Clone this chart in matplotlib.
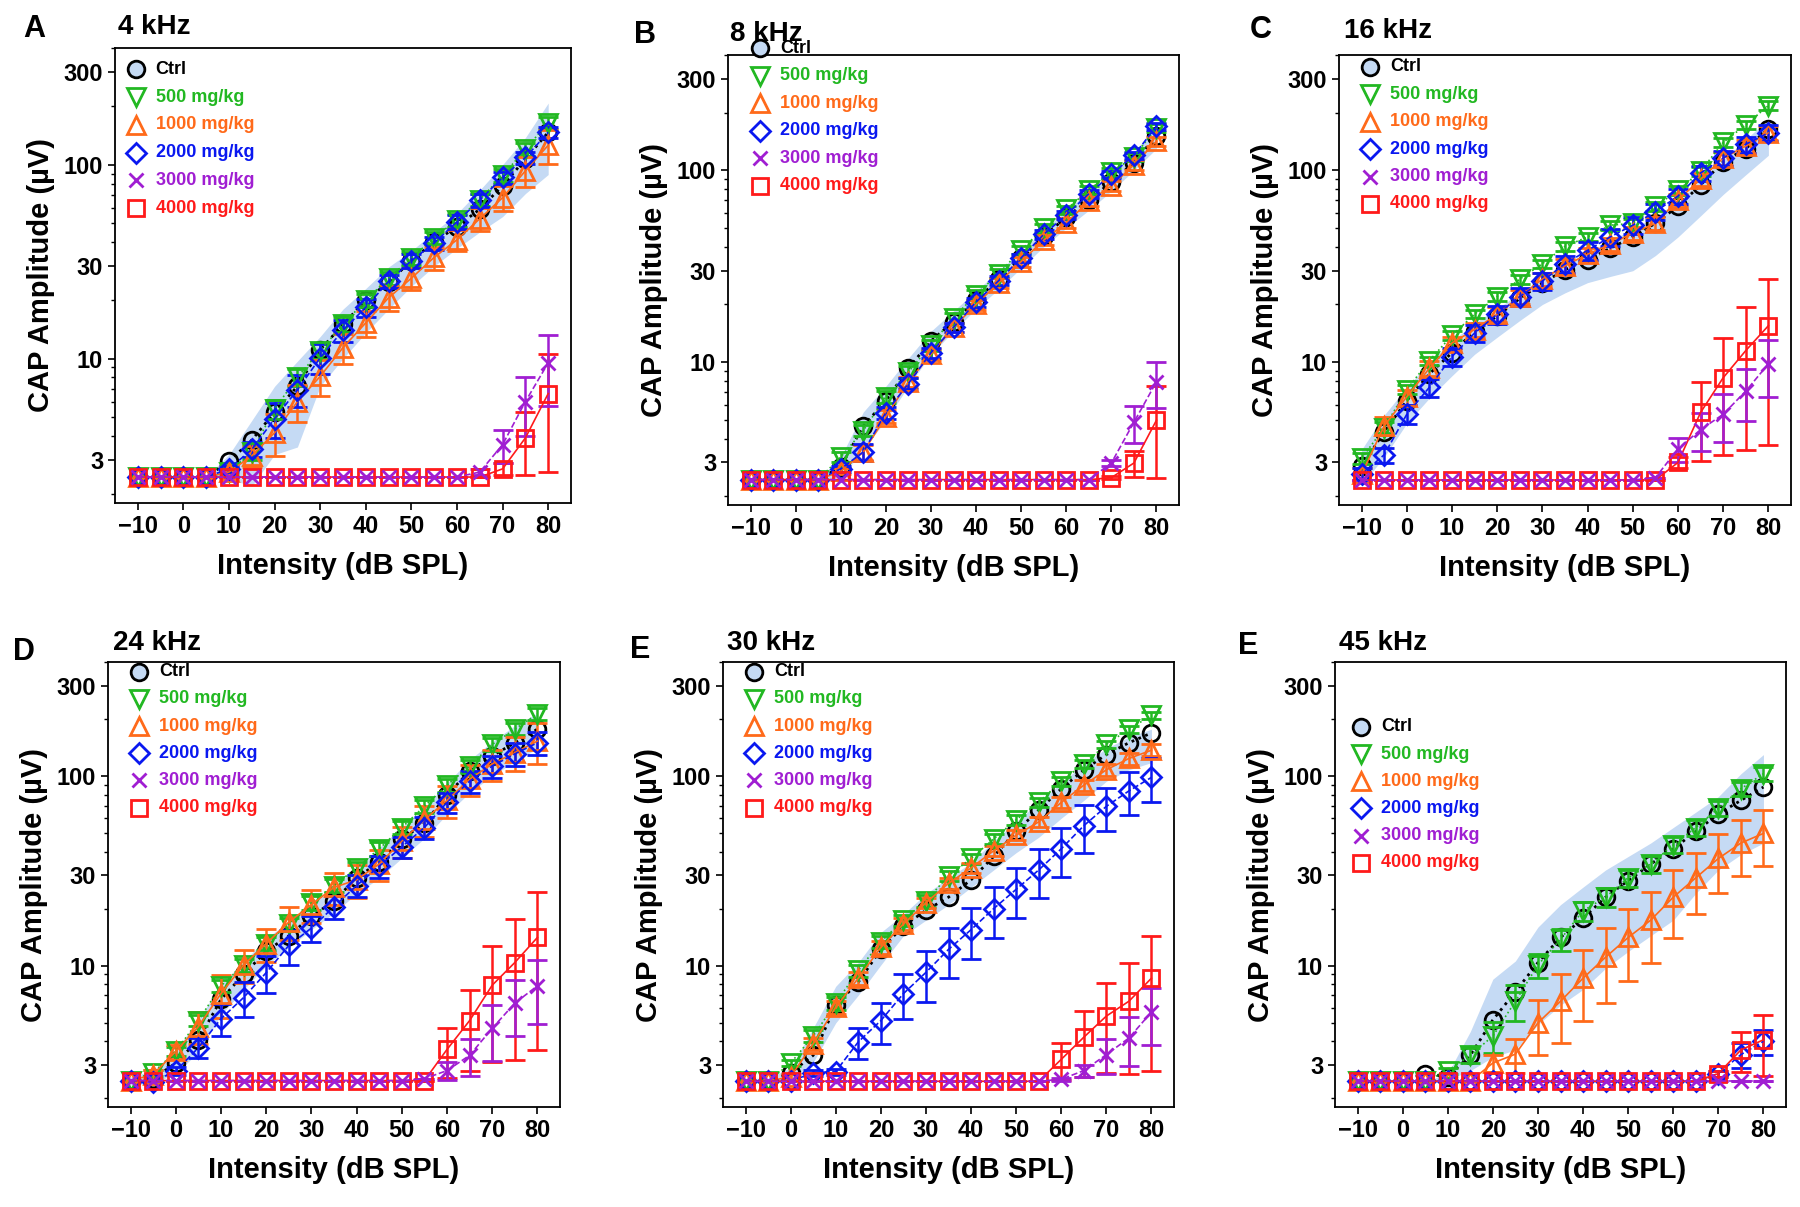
"""CAP amplitude vs. intensity, six frequencies, dose groups."""

import matplotlib
matplotlib.use("Agg")
import matplotlib.pyplot as plt
from matplotlib.ticker import FixedLocator, NullFormatter, LogLocator

plt.rcParams["font.family"] = ["Liberation Sans", "DejaVu Sans"]
plt.rcParams["font.weight"] = "bold"

DB = [-10, -5, 0, 5, 10, 15, 20, 25, 30, 35, 40, 45, 50, 55, 60, 65, 70, 75, 80]
GROUPS = ["Ctrl", "500 mg/kg", "1000 mg/kg", "2000 mg/kg", "3000 mg/kg", "4000 mg/kg"]

# ---- A: 4 kHz
A_CTRL = [2.45, 2.45, 2.45, 2.45, 2.95, 3.8, 5.3, 7.2, 11.1, 15.0, 20.0, 24.8, 32.0, 40.0, 48.0, 59.0, 78.0, 107, 147]
A_CTRL_LO = [2.45, 2.45, 2.45, 2.45, 2.4, 2.2, 3.2, 3.5, 7.2, 10.0, 13.6, 18.0, 23.6, 30.0, 37.0, 45.0, 54.0, 71.0, 89.0]
A_CTRL_HI = [2.45, 2.45, 2.45, 2.45, 3.2, 4.8, 7.2, 9.7, 13.0, 18.0, 23.0, 29.7, 36.0, 45.0, 56.0, 74.0, 100, 138, 208]
A_500 = [2.45, 2.45, 2.45, 2.45, 2.6, 3.3, 5.5, 8.0, 11.0, 15.0, 20.0, 26.0, 33.0, 42.0, 52.0, 66.0, 88.0, 120, 165]
A_500_SD = [0, 0, 0, 0, 0.1, 0.3, 0.6, 0.8, 1.0, 1.3, 1.6, 2.0, 2.5, 3.0, 4.0, 5.0, 7.0, 9.0, 12.0]
A_1000 = [2.45, 2.45, 2.45, 2.45, 2.6, 3.15, 4.15, 6.0, 8.1, 11.4, 15.3, 20.6, 26.0, 33.3, 41.0, 52.7, 67.6, 93.0, 126]
A_1000_SD = [0, 0, 0, 0, 0.2, 0.4, 1.0, 1.3, 1.7, 2.0, 2.4, 3.0, 3.3, 4.5, 5.0, 7.0, 10.0, 16.0, 25.0]
A_2000 = [2.45, 2.45, 2.45, 2.45, 2.7, 3.4, 4.9, 6.9, 10.1, 14.0, 18.4, 25.0, 32.0, 39.5, 50.8, 65.7, 86.0, 109, 147]
A_2000_SD = [0, 0, 0, 0, 0.1, 0.3, 1.0, 1.3, 1.8, 1.8, 2.0, 2.0, 2.5, 3.0, 4.0, 5.0, 6.0, 8.0, 10.0]
A_3000 = [2.45, 2.45, 2.45, 2.45, 2.45, 2.45, 2.45, 2.45, 2.45, 2.45, 2.45, 2.45, 2.45, 2.45, 2.45, 2.6, 3.6, 6.0, 9.5]
A_3000_SD = [0, 0, 0, 0, 0, 0, 0, 0, 0, 0, 0, 0, 0, 0, 0, 0.1, 0.7, 2.0, 3.8]
A_4000 = [2.45, 2.45, 2.45, 2.45, 2.45, 2.45, 2.45, 2.45, 2.45, 2.45, 2.45, 2.45, 2.45, 2.45, 2.45, 2.45, 2.7, 3.9, 6.6]
A_4000_SD = [0, 0, 0, 0, 0, 0, 0, 0, 0, 0, 0, 0, 0, 0, 0, 0, 0.2, 1.4, 4.0]

# ---- B: 8 kHz
B_CTRL = [2.44, 2.44, 2.44, 2.44, 2.85, 4.65, 6.3, 9.3, 12.9, 16.3, 21.0, 27.2, 35.0, 45.4, 57.0, 70.0, 87.0, 110, 152]
B_CTRL_LO = [2.44, 2.44, 2.44, 2.44, 2.5, 3.5, 5.0, 7.5, 11.0, 14.5, 19.0, 24.0, 31.0, 40.0, 50.0, 62.0, 78.0, 100, 130]
B_CTRL_HI = [2.44, 2.44, 2.44, 2.44, 3.2, 5.5, 7.5, 10.5, 14.5, 18.5, 23.5, 30.0, 38.0, 49.0, 62.0, 78.0, 96.0, 125, 170]
B_500 = [2.44, 2.44, 2.44, 2.44, 3.2, 4.4, 6.6, 8.9, 12.3, 17.1, 22.5, 29.0, 38.5, 50.0, 62.6, 79.0, 97.7, 118, 167]
B_500_SD = [0, 0, 0, 0, 0.2, 0.3, 0.5, 0.6, 0.8, 1.0, 1.3, 1.6, 2.0, 2.6, 3.0, 4.0, 5.0, 6.0, 8.0]
B_1000 = [2.44, 2.44, 2.44, 2.44, 2.7, 3.4, 5.2, 7.9, 11.0, 15.2, 20.0, 26.0, 33.5, 43.3, 53.3, 69.0, 83.0, 107, 142]
B_1000_SD = [0, 0, 0, 0, 0.1, 0.3, 0.4, 0.5, 0.7, 0.9, 1.2, 1.5, 2.0, 2.5, 3.0, 4.0, 5.0, 6.0, 8.0]
B_2000 = [2.44, 2.44, 2.44, 2.44, 2.78, 3.4, 5.46, 7.74, 11.2, 15.2, 20.6, 26.6, 35.0, 46.4, 58.5, 75.6, 95.3, 120, 170]
B_2000_SD = [0, 0, 0, 0, 0.1, 0.35, 0.4, 0.5, 0.7, 0.9, 1.1, 1.4, 1.8, 2.3, 2.8, 3.5, 4.5, 5.5, 7.0]
B_3000 = [2.44, 2.44, 2.44, 2.44, 2.44, 2.44, 2.44, 2.44, 2.44, 2.44, 2.44, 2.44, 2.44, 2.44, 2.44, 2.44, 2.98, 4.86, 7.9]
B_3000_SD = [0, 0, 0, 0, 0, 0, 0, 0, 0, 0, 0, 0, 0, 0, 0, 0, 0.1, 1.05, 2.1]
B_4000 = [2.44, 2.44, 2.44, 2.44, 2.44, 2.44, 2.44, 2.44, 2.44, 2.44, 2.44, 2.44, 2.44, 2.44, 2.44, 2.44, 2.5, 2.98, 4.98]
B_4000_SD = [0, 0, 0, 0, 0, 0, 0, 0, 0, 0, 0, 0, 0, 0, 0, 0, 0.05, 0.45, 2.5]

# ---- C: 16 kHz
C_CTRL = [2.86, 4.34, 6.3, 8.7, 11.2, 14.5, 17.4, 21.5, 25.8, 30.4, 34.1, 39.3, 45.0, 53.0, 65.0, 84.0, 111, 130, 165]
C_CTRL_LO = [2.3, 3.2, 4.8, 6.5, 8.5, 11.0, 13.5, 16.5, 20.0, 23.0, 26.0, 28.0, 30.0, 36.0, 45.0, 58.0, 75.0, 95.0, 120]
C_CTRL_HI = [3.5, 5.3, 7.4, 10.0, 12.9, 16.0, 19.0, 23.0, 27.7, 32.5, 37.5, 43.0, 49.5, 58.0, 68.5, 90.0, 114, 145, 186]
C_500 = [3.15, 4.55, 7.2, 10.2, 13.8, 17.8, 22.0, 27.1, 32.6, 40.2, 45.0, 51.8, 53.0, 65.0, 78.6, 99.0, 140, 173, 218]
C_500_SD = [0.2, 0.3, 0.4, 0.5, 0.7, 0.9, 1.1, 1.4, 1.6, 2.0, 2.3, 2.6, 2.7, 3.2, 4.0, 5.0, 7.0, 9.0, 11.0]
C_1000 = [2.6, 4.66, 6.6, 9.3, 12.6, 14.8, 17.8, 22.0, 27.1, 31.8, 36.6, 41.1, 47.2, 53.0, 70.0, 90.0, 116, 134, 157]
C_1000_SD = [0.2, 0.5, 0.6, 0.8, 1.0, 1.2, 1.5, 1.8, 2.2, 2.6, 3.0, 3.3, 3.8, 4.2, 5.5, 7.0, 9.0, 11.0, 13.0]
C_2000 = [2.6, 3.29, 5.35, 7.4, 10.7, 14.2, 17.8, 22.0, 26.5, 32.6, 38.3, 45.0, 51.8, 60.9, 73.5, 97.0, 116, 137, 157]
C_2000_SD = [0.2, 0.3, 0.6, 0.8, 1.1, 1.5, 1.9, 2.3, 2.8, 3.4, 4.0, 4.6, 5.2, 6.0, 7.0, 9.0, 11.0, 13.0, 15.0]
C_3000 = [2.43, 2.43, 2.43, 2.43, 2.43, 2.43, 2.43, 2.43, 2.43, 2.43, 2.43, 2.43, 2.43, 2.5, 3.53, 4.45, 5.35, 7.07, 9.8]
C_3000_SD = [0, 0, 0, 0, 0, 0, 0, 0, 0, 0, 0, 0, 0, 0, 0.5, 1.0, 1.5, 2.15, 3.2]
C_4000 = [2.43, 2.43, 2.43, 2.43, 2.43, 2.43, 2.43, 2.43, 2.43, 2.43, 2.43, 2.43, 2.43, 2.43, 3.0, 5.47, 8.3, 11.5, 15.5]
C_4000_SD = [0, 0, 0, 0, 0, 0, 0, 0, 0, 0, 0, 0, 0, 0, 0.2, 2.4, 5.0, 8.0, 11.8]

# ---- D: 24 kHz
D_CTRL = [2.48, 2.54, 3.07, 4.07, 6.65, 9.0, 11.95, 14.4, 18.2, 22.0, 29.1, 35.2, 46.6, 56.3, 79.8, 106, 128, 150, 177]
D_CTRL_LO = [2.35, 2.4, 2.7, 3.5, 5.5, 7.5, 10.0, 12.5, 15.5, 19.0, 24.0, 29.0, 37.0, 47.0, 63.0, 82.0, 100, 120, 140]
D_CTRL_HI = [2.6, 2.8, 3.6, 5.2, 8.0, 10.5, 14.0, 17.0, 21.0, 26.0, 33.0, 42.0, 54.0, 68.0, 92.0, 122, 152, 185, 215]
D_500 = [2.48, 2.73, 3.54, 5.14, 7.84, 10.1, 13.1, 16.6, 21.5, 26.5, 32.8, 41.4, 53.6, 69.3, 89.6, 113, 147, 177, 213]
D_500_SD = [0, 0.1, 0.2, 0.35, 0.6, 0.8, 1.0, 1.3, 1.7, 2.1, 2.6, 3.3, 4.3, 5.5, 7.0, 9.0, 11.0, 13.0, 16.0]
D_1000 = [2.48, 2.67, 3.54, 4.78, 7.13, 10.1, 13.1, 17.0, 21.0, 25.9, 28.4, 34.4, 45.5, 58.9, 74.5, 96.3, 116, 133, 153]
D_1000_SD = [0, 0.15, 0.3, 0.9, 1.85, 2.0, 2.6, 3.4, 4.2, 5.0, 5.5, 6.5, 8.5, 11.0, 14.0, 18.0, 22.0, 27.0, 37.0]
D_2000 = [2.48, 2.45, 2.79, 3.7, 5.26, 6.8, 9.2, 12.8, 15.8, 20.5, 26.5, 33.5, 42.4, 53.6, 72.7, 94.0, 113, 131, 150]
D_2000_SD = [0, 0, 0.15, 0.45, 1.0, 1.4, 2.0, 2.7, 2.5, 2.8, 3.5, 4.5, 5.5, 7.0, 9.0, 12.0, 15.0, 18.0, 20.0]
D_3000 = [2.48, 2.48, 2.48, 2.48, 2.48, 2.48, 2.48, 2.48, 2.48, 2.48, 2.48, 2.48, 2.48, 2.54, 2.8, 3.37, 4.68, 6.35, 7.84]
D_3000_SD = [0, 0, 0, 0, 0, 0, 0, 0, 0, 0, 0, 0, 0, 0, 0.3, 0.75, 1.55, 2.1, 2.9]
D_4000 = [2.48, 2.48, 2.48, 2.48, 2.48, 2.48, 2.48, 2.48, 2.48, 2.48, 2.48, 2.48, 2.48, 2.48, 3.62, 5.14, 7.9, 10.4, 14.1]
D_4000_SD = [0, 0, 0, 0, 0, 0, 0, 0, 0, 0, 0, 0, 0, 0, 1.05, 2.35, 4.8, 7.2, 10.5]

# ---- E: 30 kHz
E_CTRL = [2.46, 2.46, 2.73, 3.37, 6.2, 8.2, 12.2, 16.2, 19.6, 23.0, 28.4, 37.7, 51.1, 66.3, 85.8, 108, 130, 150, 169]
E_CTRL_LO = [2.4, 2.4, 2.5, 3.1, 5.0, 7.0, 10.1, 14.4, 17.4, 21.0, 25.9, 32.0, 39.5, 47.6, 60.0, 74.5, 94.0, 108, 118]
E_CTRL_HI = [2.55, 2.55, 2.9, 4.7, 7.8, 10.4, 15.0, 18.7, 24.0, 29.0, 35.0, 45.5, 57.5, 72.7, 92.0, 116, 140, 161, 177]
E_500 = [2.46, 2.46, 3.07, 4.26, 6.35, 9.45, 13.4, 17.4, 22.0, 29.8, 36.8, 46.6, 58.9, 72.7, 94.0, 116, 147, 177, 209]
E_500_SD = [0, 0, 0.1, 0.3, 0.5, 0.7, 1.0, 1.2, 1.5, 1.8, 2.2, 2.8, 3.3, 4.0, 5.0, 6.0, 7.0, 8.0, 10.0]
E_1000 = [2.46, 2.46, 2.6, 3.88, 6.05, 8.6, 12.5, 16.6, 21.5, 27.2, 32.8, 40.4, 48.8, 57.4, 72.7, 89.6, 108, 124, 137]
E_1000_SD = [0, 0, 0.1, 0.3, 0.5, 0.7, 1.0, 1.2, 1.4, 1.7, 2.0, 2.5, 3.0, 3.5, 4.5, 6.0, 8.0, 9.0, 10.0]
E_2000 = [2.46, 2.46, 2.46, 2.73, 2.77, 3.97, 5.14, 7.13, 9.23, 12.2, 15.5, 20.0, 25.3, 32.0, 41.4, 54.8, 69.3, 83.6, 98.5]
E_2000_SD = [0, 0, 0, 0.1, 0.1, 0.75, 1.25, 1.9, 2.8, 3.6, 4.6, 6.0, 7.5, 9.2, 12.0, 15.5, 17.7, 21.0, 25.6]
E_3000 = [2.46, 2.46, 2.46, 2.46, 2.46, 2.46, 2.46, 2.46, 2.46, 2.46, 2.46, 2.46, 2.46, 2.46, 2.52, 2.8, 3.4, 4.16, 5.7]
E_3000_SD = [0, 0, 0, 0, 0, 0, 0, 0, 0, 0, 0, 0, 0, 0, 0.05, 0.2, 0.7, 1.2, 1.9]
E_4000 = [2.46, 2.46, 2.46, 2.46, 2.46, 2.46, 2.46, 2.46, 2.46, 2.46, 2.46, 2.46, 2.46, 2.46, 3.21, 4.2, 5.43, 6.5, 8.6]
E_4000_SD = [0, 0, 0, 0, 0, 0, 0, 0, 0, 0, 0, 0, 0, 0, 0.7, 1.6, 2.7, 3.8, 5.8]

# ---- F: 45 kHz
F_CTRL = [2.46, 2.46, 2.46, 2.7, 2.6, 3.37, 5.18, 7.3, 10.4, 14.1, 17.8, 23.0, 28.1, 34.4, 41.4, 51.1, 63.3, 74.5, 87.6]
F_CTRL_LO = [2.46, 2.46, 2.46, 2.46, 2.5, 2.8, 3.3, 3.6, 4.9, 6.2, 7.5, 9.7, 11.9, 14.4, 17.4, 24.1, 32.0, 38.6, 44.4]
F_CTRL_HI = [2.46, 2.46, 2.46, 2.46, 2.7, 4.5, 8.5, 10.6, 16.0, 21.0, 26.0, 32.0, 37.7, 44.4, 53.6, 64.6, 78.0, 103, 130]
F_500 = [2.46, 2.46, 2.46, 2.46, 2.8, 3.37, 4.26, 6.5, 10.1, 13.8, 19.5, 23.0, 29.1, 34.4, 43.4, 53.6, 67.8, 85.8, 103]
F_500_SD = [0, 0, 0, 0, 0.1, 0.3, 0.8, 1.4, 1.5, 1.8, 2.2, 2.6, 3.0, 3.5, 4.2, 5.0, 6.0, 7.0, 9.0]
F_1000 = [2.46, 2.46, 2.46, 2.46, 2.46, 2.46, 3.07, 3.42, 5.0, 6.5, 8.6, 11.1, 14.1, 17.4, 23.0, 29.1, 36.8, 44.4, 49.9]
F_1000_SD = [0, 0, 0, 0, 0, 0, 0.3, 0.7, 1.6, 2.6, 3.5, 4.7, 5.8, 7.1, 9.0, 10.3, 12.6, 14.6, 16.2]
F_2000 = [2.46, 2.46, 2.46, 2.46, 2.46, 2.46, 2.46, 2.46, 2.46, 2.46, 2.46, 2.46, 2.46, 2.46, 2.46, 2.46, 2.7, 3.4, 4.0]
F_2000_SD = [0, 0, 0, 0, 0, 0, 0, 0, 0, 0, 0, 0, 0, 0, 0, 0, 0.1, 0.5, 0.6]
F_3000 = [2.46, 2.46, 2.46, 2.46, 2.46, 2.46, 2.46, 2.46, 2.46, 2.46, 2.46, 2.46, 2.46, 2.46, 2.46, 2.46, 2.46, 2.46, 2.46]
F_3000_SD = [0, 0, 0, 0, 0, 0, 0, 0, 0, 0, 0, 0, 0, 0, 0, 0, 0, 0, 0]
F_4000 = [2.46, 2.46, 2.46, 2.46, 2.46, 2.46, 2.46, 2.46, 2.46, 2.46, 2.46, 2.46, 2.46, 2.46, 2.46, 2.46, 2.7, 3.6, 4.07]
F_4000_SD = [0, 0, 0, 0, 0, 0, 0, 0, 0, 0, 0, 0, 0, 0, 0, 0, 0.1, 0.85, 1.45]

BAND = "#c5daf4"
# label, color, marker, markersize, linestyle
STYLES = [
    ("500 mg/kg", "#22b822", "v", 13, ":"),
    ("1000 mg/kg", "#ff6a1a", "^", 13, "-"),
    ("2000 mg/kg", "#0a18f0", "D", 10, "--"),
    ("4000 mg/kg", "#ff1a1a", "s", 12, "-"),
    ("3000 mg/kg", "#a01ed2", "x", 10, "--"),
]
LEGEND_ORDER = [
    ("Ctrl", "black", "o", 12),
    ("500 mg/kg", "#22b822", "v", 13),
    ("1000 mg/kg", "#ff6a1a", "^", 13),
    ("2000 mg/kg", "#0a18f0", "D", 10),
    ("3000 mg/kg", "#a01ed2", "x", 10),
    ("4000 mg/kg", "#ff1a1a", "s", 12),
]

W, H = 1800, 1207
# letter, title, ctrl, lo, hi, series (500, 1000, 2000, 4000, 3000), axes box px, letter px, title px, legend (x, y)
PANELS = [
    ("A", "4 kHz", A_CTRL, A_CTRL_LO, A_CTRL_HI,
     [(A_500, A_500_SD), (A_1000, A_1000_SD), (A_2000, A_2000_SD), (A_4000, A_4000_SD), (A_3000, A_3000_SD)],
     (115, 48, 571, 503), (34, 29), (118, 27), (0.045, 0.953)),
    ("B", "8 kHz", B_CTRL, B_CTRL_LO, B_CTRL_HI,
     [(B_500, B_500_SD), (B_1000, B_1000_SD), (B_2000, B_2000_SD), (B_4000, B_4000_SD), (B_3000, B_3000_SD)],
     (728, 55, 1179, 505), (645, 35), (730, 34), (0.071, 1.015)),
    ("C", "16 kHz", C_CTRL, C_CTRL_LO, C_CTRL_HI,
     [(C_500, C_500_SD), (C_1000, C_1000_SD), (C_2000, C_2000_SD), (C_4000, C_4000_SD), (C_3000, C_3000_SD)],
     (1339, 55, 1791, 505), (1261, 30), (1344, 31), (0.069, 0.974)),
    ("D", "24 kHz", D_CTRL, D_CTRL_LO, D_CTRL_HI,
     [(D_500, D_500_SD), (D_1000, D_1000_SD), (D_2000, D_2000_SD), (D_4000, D_4000_SD), (D_3000, D_3000_SD)],
     (108, 662, 560, 1107), (24, 652), (113, 643), (0.069, 0.978)),
    ("E", "30 kHz", E_CTRL, E_CTRL_LO, E_CTRL_HI,
     [(E_500, E_500_SD), (E_1000, E_1000_SD), (E_2000, E_2000_SD), (E_4000, E_4000_SD), (E_3000, E_3000_SD)],
     (723, 662, 1174, 1107), (640, 650), (727, 643), (0.069, 0.978)),
    ("E", "45 kHz", F_CTRL, F_CTRL_LO, F_CTRL_HI,
     [(F_500, F_500_SD), (F_1000, F_1000_SD), (F_2000, F_2000_SD), (F_4000, F_4000_SD), (F_3000, F_3000_SD)],
     (1335, 662, 1786, 1107), (1248, 646), (1339, 643), (0.058, 0.854)),
]


def draw_panel(fig, letter, title, ctrl, lo, hi, series, box, letter_xy, title_xy, leg):
    x0, y0, x1, y1 = box
    ax = fig.add_axes([x0 / W, 1 - y1 / H, (x1 - x0) / W, (y1 - y0) / H])
    ax.set_yscale("log")

    ax.fill_between(DB, lo, hi, color=BAND, linewidth=0, zorder=1)
    ax.plot(DB, ctrl, color="black", linestyle=":", linewidth=2, marker="o",
            markersize=12, markerfacecolor="none", markeredgewidth=2, zorder=3)
    for (label, color, marker, ms, ls), (vals, sd) in zip(STYLES, series):
        ax.errorbar(DB, vals, yerr=sd, color=color, linestyle=ls, linewidth=1.2,
                    marker=marker, markersize=ms, markerfacecolor="none",
                    markeredgewidth=2, elinewidth=1.8, capsize=7, capthick=1.8, zorder=4)

    ax.set_xlim(-15, 85)
    ax.set_ylim(1.8, 400)
    ax.set_xticks([-10, 0, 10, 20, 30, 40, 50, 60, 70, 80])
    ax.yaxis.set_major_locator(FixedLocator([3, 10, 30, 100, 300]))
    ax.yaxis.set_major_formatter(matplotlib.ticker.FixedFormatter(["3", "10", "30", "100", "300"]))
    ax.yaxis.set_minor_locator(LogLocator(base=10, subs=(2, 4, 5, 6, 7, 8, 9)))
    ax.yaxis.set_minor_formatter(NullFormatter())
    ax.tick_params(axis="both", which="major", labelsize=17, length=5, width=1.2)
    ax.tick_params(axis="y", which="minor", length=3, width=1)
    for lab in ax.get_xticklabels() + ax.get_yticklabels():
        lab.set_fontweight("bold")
    for sp in ax.spines.values():
        sp.set_linewidth(1.3)

    ax.set_xlabel("Intensity (dB SPL)", fontsize=21, fontweight="bold", labelpad=10)
    ax.set_ylabel("CAP Amplitude (\u00b5V)", fontsize=21, fontweight="bold", labelpad=6)

    lx, ly = leg
    for i, (label, color, marker, ms) in enumerate(LEGEND_ORDER):
        yy = ly - i * 0.061
        face = BAND if label == "Ctrl" else "none"
        ax.plot([lx], [yy], transform=ax.transAxes, marker=marker, markersize=ms,
                markerfacecolor=face, markeredgecolor=color, markeredgewidth=2,
                linestyle="none", clip_on=False, zorder=6)
        ax.text(lx + 0.044, yy, label, transform=ax.transAxes, color=color,
                fontsize=13, fontweight="bold", va="center", ha="left", zorder=6)

    fig.text(letter_xy[0] / W, 1 - letter_xy[1] / H, letter, fontsize=22,
             fontweight="bold", ha="center", va="center")
    fig.text(title_xy[0] / W, 1 - title_xy[1] / H, title, fontsize=20,
             fontweight="bold", ha="left", va="center")


def main():
    fig = plt.figure(figsize=(W / 100, H / 100), dpi=100)
    for panel in PANELS:
        draw_panel(fig, *panel)
    fig.savefig("out.png", dpi=100)


if __name__ == "__main__":
    main()
